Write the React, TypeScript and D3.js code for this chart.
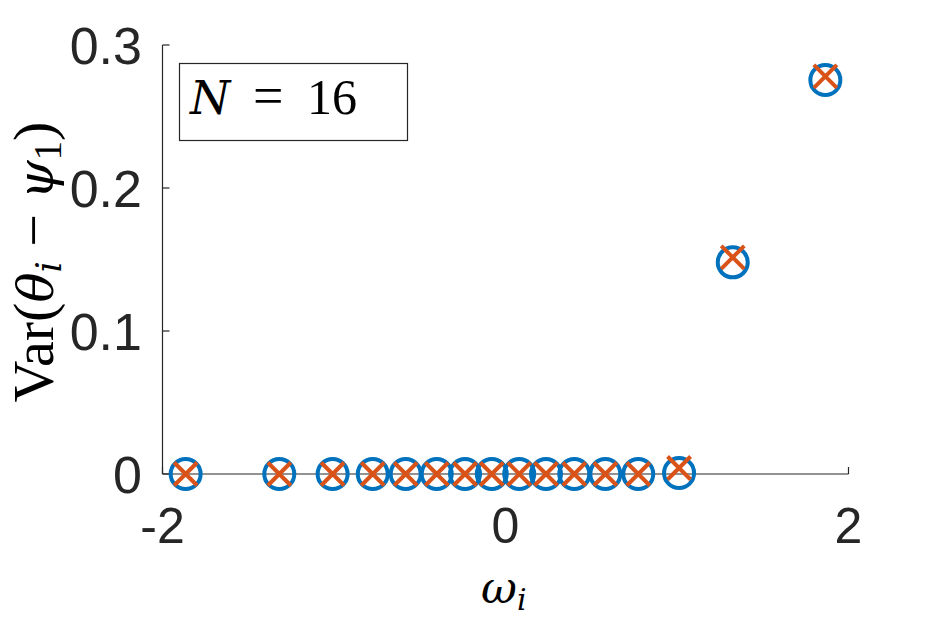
import React from "react";
import * as d3 from "d3";

const omega = [-1.865, -1.319, -1.008, -0.774, -0.582, -0.401, -0.236, -0.08, 0.08, 0.236, 0.401, 0.582, 0.774, 1.012, 1.325, 1.865];
const varCircle = [0, 0, 0, 0, 0, 0, 0, 0, 0, 0, 0, 0, 0, 0.0007, 0.148, 0.2755];
const varCross = [0, 0, 0, 0, 0, 0, 0, 0, 0, 0, 0, 0, 0, 0.0042, 0.1515, 0.278];
const xTicks = [-2, 0, 2];
const yTicks = [0, 0.1, 0.2, 0.3];
const xTickLabels = ["-2", "0", "2"];
const yTickLabels = ["0", "0.1", "0.2", "0.3"];

const W = 938;
const H = 625;
const axisColor = "#262626";
const blue = "#0072BD";
const orange = "#D95319";
const sans = "'Liberation Sans', Arial, Helvetica, sans-serif";
const serif = "'Liberation Serif', 'Times New Roman', serif";
const iserif = "'DejaVu Serif', serif";

export default function App() {
  const x = d3.scaleLinear().domain([-2, 2]).range([162.5, 848.5]);
  const y = d3.scaleLinear().domain([0, 0.3]).range([474, 45]);
  const tickLen = 7;
  const fs = 50;
  const cr = 15;
  const xs = 11.5;

  return (
    <svg width={W} height={H} style={{ position: "absolute", left: 0, top: 0, background: "#fff" }}>
      <rect x={0} y={0} width={W} height={H} fill="#fff" />
      <line x1={x(-2)} x2={x(-2)} y1={y(0.3)} y2={y(0)} stroke={axisColor} strokeWidth={1.2} />
      <line x1={x(-2)} x2={x(2)} y1={y(0)} y2={y(0)} stroke={axisColor} strokeWidth={1.2} />
      {xTicks.map((t, i) => (
        <g key={"xt" + i}>
          <line x1={x(t)} x2={x(t)} y1={y(0)} y2={y(0) - tickLen} stroke={axisColor} strokeWidth={1.2} />
          <text x={x(t)} y={543} textAnchor="middle" fontFamily={sans} fontSize={fs} fill={axisColor}>
            {xTickLabels[i]}
          </text>
        </g>
      ))}
      {yTicks.map((t, i) => (
        <g key={"yt" + i}>
          <line x1={x(-2)} x2={x(-2) + tickLen} y1={y(t)} y2={y(t)} stroke={axisColor} strokeWidth={1.2} />
          <text x={142} y={y(t) + 19} textAnchor="end" fontFamily={sans} fontSize={52} fill={axisColor}>
            {yTickLabels[i]}
          </text>
        </g>
      ))}
      {omega.map((w, i) => (
        <circle key={"c" + i} cx={x(w)} cy={y(varCircle[i])} r={cr} fill="none" stroke={blue} strokeWidth={4} />
      ))}
      {omega.map((w, i) => {
        const cx = x(w);
        const cy = y(varCross[i]);
        return (
          <path
            key={"x" + i}
            d={`M${cx - xs},${cy - xs}L${cx + xs},${cy + xs}M${cx - xs},${cy + xs}L${cx + xs},${cy - xs}`}
            stroke={orange}
            strokeWidth={4}
            fill="none"
          />
        );
      })}
      <rect x={179.5} y={63.5} width={228} height={77} fill="#fff" stroke={axisColor} strokeWidth={1.2} />
      <text y={114} fontFamily={serif} fontSize={50} fill="#000">
        <tspan x={190} fontStyle="italic" fontFamily={iserif} fontSize={46}>N</tspan>
        <tspan x={253} fontSize={54}>=</tspan>
        <tspan x={307}>16</tspan>
      </text>
      <text y={603} fontFamily={serif} fontSize={50} fill="#000">
        <tspan x={481} fontStyle="italic" fontFamily={iserif} fontSize={44}>ω</tspan>
        <tspan fontStyle="italic" fontFamily={iserif} fontSize={30} dy={7}>i</tspan>
      </text>
      <text
        transform={`translate(53,262) rotate(-90)`}
        textAnchor="middle"
        fontFamily={serif}
        fontSize={58}
        fill="#000"
      >
        <tspan>Var(</tspan>
        <tspan fontStyle="italic" fontFamily={iserif} fontSize={50}>θ</tspan>
        <tspan fontStyle="italic" fontFamily={iserif} fontSize={35} dy={8}>i</tspan>
        <tspan dy={-8}>{"\u2005\u2212\u2005"}</tspan>
        <tspan fontStyle="italic" fontFamily={iserif} fontSize={50}>ψ</tspan>
        <tspan fontSize={39} dy={8}>1</tspan>
        <tspan dy={-8}>)</tspan>
      </text>
    </svg>
  );
}
